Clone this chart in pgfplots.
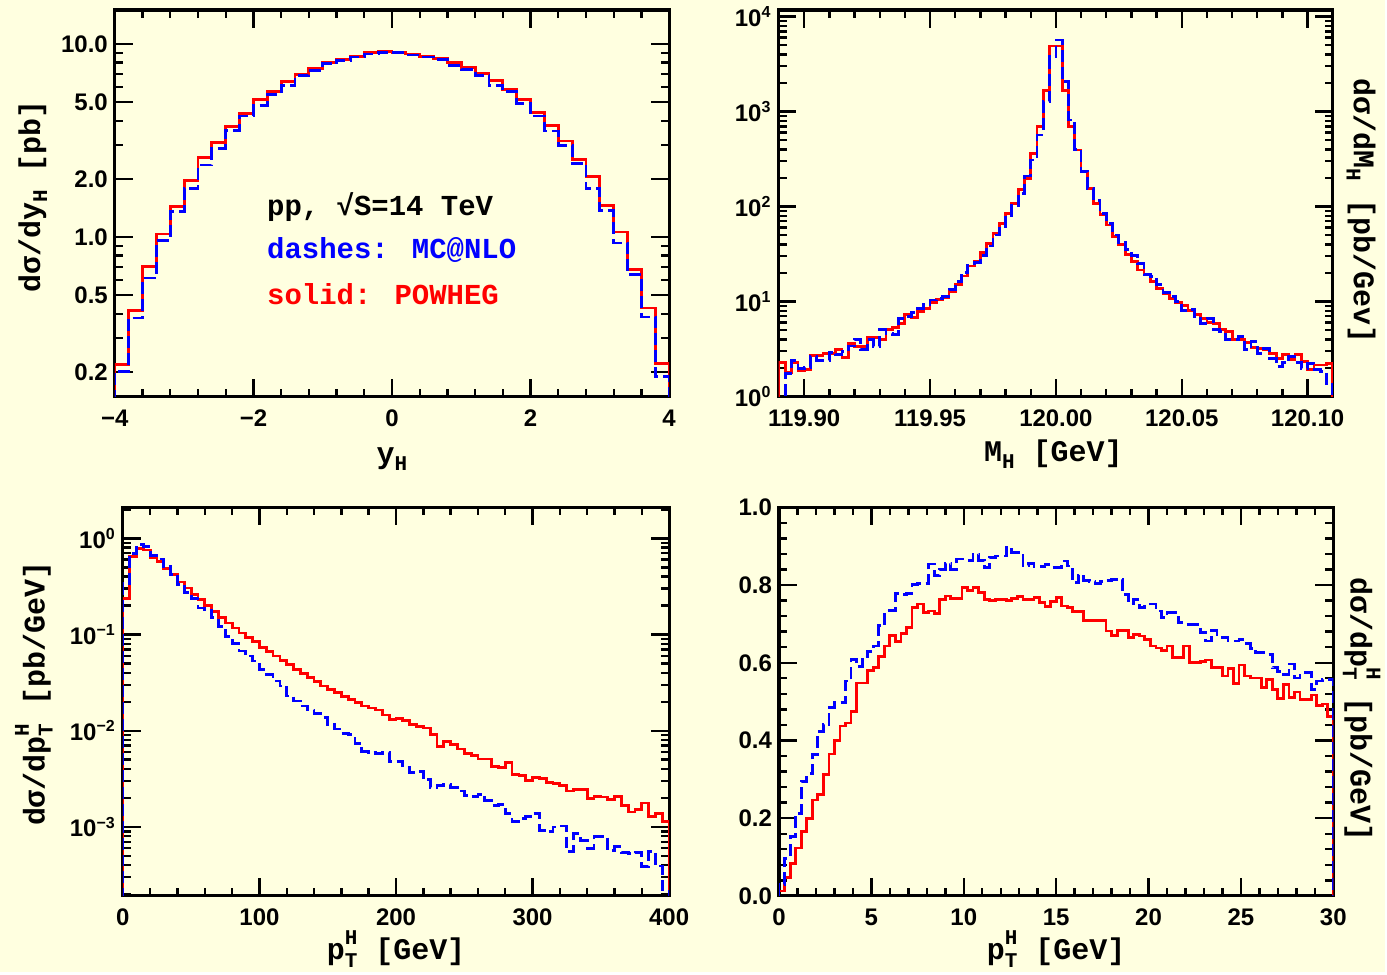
\documentclass[border=0pt]{standalone}
\usepackage{fontspec}
\setmainfont{Liberation Mono}
\newfontfamily\tickfont{Liberation Sans}
\usepackage{pgfplots}
\pgfplotsset{compat=1.18}
\definecolor{bg}{RGB}{255,255,224}
\definecolor{myred}{RGB}{255,0,0}
\definecolor{myblue}{RGB}{0,0,255}
\newcommand\lbl{\fontsize{15}{17}\selectfont\bfseries}
\newcommand\tck{\fontsize{12}{14}\tickfont\bfseries}
\newcommand\sub[1]{\raisebox{-0.45ex}{\fontsize{10.5}{10.5}\selectfont#1}}
\newcommand\pth{p\rlap{\raisebox{-0.5ex}{\fontsize{10.5}{10.5}\selectfont T}}\raisebox{1.0ex}{\fontsize{10.5}{10.5}\selectfont H}}
\pgfplotsset{
  every axis/.append style={
    scale only axis,
    anchor=south west,
    axis line style={line width=1.6pt},
    tick style={black,line width=1.2pt},
    major tick length=9pt,
    minor tick length=4pt,
    tick align=inside,
    xtick pos=both, ytick pos=both,
    tick label style={font=\tck},
    xticklabel style={yshift=-3pt},
    label style={font=\lbl},
    axis background/.style={fill=bg},
  },
  redh/.style={const plot, myred, line width=1.4pt, mark=none},
  blueh/.style={const plot, myblue, line width=1.4pt, mark=none, dash pattern=on 6pt off 2.5pt},
}
\begin{document}
\begin{tikzpicture}
\fill[bg] (0,0) rectangle (693.5pt,486.5pt);
% ---------------- top left
\begin{axis}[at={(57.5pt,288pt)}, width=277.5pt, height=193.5pt,
  xmin=-4, xmax=4, ymode=log, ymin=0.149, ymax=15,
  xtick={-4,-2,0,2,4}, xticklabels={−4,−2,0,2,4}, minor x tick num=4,
  ytick={0.2,0.5,1,2,5,10}, yticklabels={0.2,0.5,1.0,2.0,5.0,10.0},
  minor ytick={0.3,0.4,0.6,0.7,0.8,0.9,3,4,6,7,8,9},
  xlabel={y\sub{H}}, ylabel={dσ/dy\sub{H} [pb]},
  xlabel style={at={(axis description cs:0.5,-0.163)},anchor=center},
  ylabel style={at={(axis description cs:-0.148,0.517)},anchor=center},
]
\addplot[redh] coordinates {(-4,0.01) (-4,0.218) (-3.8,0.417) (-3.6,0.706) (-3.4,1.036) (-3.2,1.44) (-3,1.97) (-2.8,2.58) (-2.6,3.10) (-2.4,3.74) (-2.2,4.36) (-2,5.16) (-1.8,5.67) (-1.6,6.37) (-1.4,6.92) (-1.2,7.46) (-1,8.04) (-0.8,8.30) (-0.6,8.63) (-0.4,8.99) (-0.2,9.10) (0,9.06) (0.2,8.87) (0.4,8.63) (0.6,8.40) (0.8,8.04) (1,7.55) (1.2,7.03) (1.4,6.44) (1.6,5.79) (1.8,5.16) (2,4.40) (2.2,3.79) (2.4,3.14) (2.6,2.52) (2.8,2.06) (3,1.45) (3.2,1.06) (3.4,0.678) (3.6,0.428) (3.8,0.221) (4,0.221) (4,0.01)};
\addplot[blueh] coordinates {(-4,0.01) (-4,0.200) (-3.8,0.380) (-3.6,0.612) (-3.4,0.957) (-3.2,1.35) (-3,1.79) (-2.8,2.36) (-2.6,2.88) (-2.4,3.57) (-2.2,4.23) (-2,4.80) (-1.8,5.48) (-1.6,6.12) (-1.4,6.86) (-1.2,7.31) (-1,7.91) (-0.8,8.23) (-0.6,8.56) (-0.4,8.87) (-0.2,9.06) (0,8.99) (0.2,8.77) (0.4,8.56) (0.6,8.30) (0.8,7.76) (1,7.37) (1.2,6.86) (1.4,6.12) (1.6,5.65) (1.8,4.92) (2,4.23) (2.2,3.54) (2.4,2.99) (2.6,2.41) (2.8,1.78) (3,1.37) (3.2,0.931) (3.4,0.639) (3.6,0.385) (3.8,0.189) (4,0.189) (4,0.01)};
\node[anchor=west,font=\fontsize{14.5}{16}\selectfont\bfseries] at (rel axis cs:0.262,0.491) {pp, √S=14 TeV};
\node[anchor=west,font=\fontsize{14.5}{16}\selectfont\bfseries,text=myblue] at (rel axis cs:0.262,0.380) {dashes: MC@NLO};
\node[anchor=west,font=\fontsize{14.5}{16}\selectfont\bfseries,text=myred] at (rel axis cs:0.262,0.264) {solid: POWHEG};
\end{axis}
% ---------------- top right
\begin{axis}[at={(389.75pt,288pt)}, width=277.5pt, height=193.5pt,
  xmin=-110.2, xmax=110, ymode=log, ymin=1, ymax=11750,
  xtick={-100,-50,0,50,100}, xticklabels={119.90,119.95,120.00,120.05,120.10}, minor x tick num=4,
  ytick={1,10,100,1000,10000},
  yticklabels={10\textsuperscript{0},10\textsuperscript{1},10\textsuperscript{2},10\textsuperscript{3},10\textsuperscript{4}},
  minor ytick={2,3,4,5,6,7,8,9,20,30,40,50,60,70,80,90,200,300,400,500,600,700,800,900,2000,3000,4000,5000,6000,7000,8000,9000},
  xlabel={M\sub{H} [GeV]}, ylabel={dσ/dM\sub{H} [pb/Gev]},
  xlabel style={at={(axis description cs:0.496,-0.15)},anchor=center},
  ylabel style={at={(axis description cs:1.051,0.48)},anchor=center,rotate=180},
]
\addplot[redh] coordinates {(-110,0.1) (-110,2.28) (-107.5,1.79) (-105,2.28) (-102.5,1.88) (-100,1.91) (-97.5,2.68) (-95,2.68) (-92.5,2.81) (-90,2.81) (-87.5,3.10) (-85,2.59) (-82.5,3.58) (-80,3.36) (-77.5,3.36) (-75,4.21) (-72.5,4.21) (-70,3.95) (-67.5,5.03) (-65,5.37) (-62.5,5.91) (-60,7.24) (-57.5,6.84) (-55,7.85) (-52.5,8.51) (-50,9.76) (-47.5,10.6) (-45,11.0) (-42.5,12.7) (-40,15.0) (-37.5,18.6) (-35,23.7) (-32.5,26.4) (-30,32.8) (-27.5,40.5) (-25,52.4) (-22.5,65.7) (-20,85.1) (-17.5,108) (-15,152) (-12.5,199) (-10,364) (-7.5,695) (-5,1663) (-2.5,4910) (0,4910) (2.5,1663) (5,695) (7.5,395) (10,234) (12.5,156) (15,108) (17.5,81.7) (20,64.1) (22.5,48.3) (25,39.5) (27.5,31.0) (30,26.4) (32.5,21.5) (35,19.1) (37.5,16.2) (40,13.8) (42.5,12.0) (45,10.8) (47.5,9.76) (50,9.0) (52.5,8.04) (55,7.24) (57.5,6.68) (60,6.01) (62.5,5.91) (65,5.11) (67.5,4.83) (70,4.01) (72.5,3.95) (75,3.70) (77.5,3.31) (80,3.23) (82.5,3.10) (85,2.86) (87.5,2.53) (90,2.75) (92.5,2.43) (95,2.75) (97.5,2.33) (100,1.91) (102.5,2.15) (105,2.15) (107.5,2.24) (110,2.24) (110,0.1)};
\addplot[blueh] coordinates {(-110,0.1) (-110,0.5) (-107.5,1.76) (-105,2.39) (-102.5,1.99) (-100,2.03) (-97.5,2.64) (-95,2.39) (-92.5,2.39) (-90,2.90) (-87.5,2.75) (-85,2.98) (-82.5,3.41) (-80,4.01) (-77.5,3.15) (-75,3.95) (-72.5,3.36) (-70,5.03) (-67.5,4.57) (-65,4.48) (-62.5,6.68) (-60,6.96) (-57.5,7.66) (-55,8.51) (-52.5,9.22) (-50,10.4) (-47.5,10.8) (-45,11.3) (-42.5,13.5) (-40,16.2) (-37.5,20.2) (-35,24.3) (-32.5,25.7) (-30,30.3) (-27.5,38.5) (-25,50.3) (-22.5,61.5) (-20,79.8) (-17.5,102) (-15,138) (-12.5,210) (-10,310) (-7.5,568) (-5,1274) (-2.5,3793) (0,5680) (2.5,2070) (5,817) (7.5,401) (10,234) (12.5,156) (15,116) (17.5,85.1) (20,66.8) (22.5,50.3) (25,41.8) (27.5,35.6) (30,30.3) (32.5,25.3) (35,19.1) (37.5,18.3) (40,15.0) (42.5,12.4) (45,11.3) (47.5,10.0) (50,8.04) (52.5,8.2) (55,6.96) (57.5,5.91) (60,6.68) (62.5,5.03) (65,4.83) (67.5,3.95) (70,3.95) (72.5,4.28) (75,3.10) (77.5,3.79) (80,2.86) (82.5,3.23) (85,2.53) (87.5,2.07) (90,2.28) (92.5,2.64) (95,2.28) (97.5,1.99) (100,2.24) (102.5,1.91) (105,1.83) (107.5,1.38) (110,1.38) (110,0.1)};
\end{axis}
% ---------------- bottom left
\begin{axis}[at={(61.5pt,38pt)}, width=273.5pt, height=194.5pt,
  xmin=0, xmax=400, ymode=log, ymin=1.92e-4, ymax=2.1,
  xtick={0,100,200,300,400}, minor x tick num=4,
  xticklabels={0,100,200,300,400},
  ytick={0.001,0.01,0.1,1},
  yticklabels={10\textsuperscript{−3},10\textsuperscript{−2},10\textsuperscript{−1},10\textsuperscript{0}},
  minor ytick={2e-4,3e-4,4e-4,5e-4,6e-4,7e-4,8e-4,9e-4,0.002,0.003,0.004,0.005,0.006,0.007,0.008,0.009,0.02,0.03,0.04,0.05,0.06,0.07,0.08,0.09,0.2,0.3,0.4,0.5,0.6,0.7,0.8,0.9,2},
  xlabel={\pth\ [GeV]}, ylabel={dσ/d\pth\ [pb/GeV]},
  xlabel style={at={(axis description cs:0.5,-0.137)},anchor=center},
  ylabel style={at={(axis description cs:-0.163,0.52)},anchor=center},
]
\addplot[redh] coordinates {(0,1e-5) (0,0.239) (5,0.646) (10,0.788) (15,0.757) (20,0.631) (25,0.574) (30,0.490) (35,0.418) (40,0.351) (45,0.304) (50,0.259) (55,0.230) (60,0.200) (65,0.172) (70,0.151) (75,0.132) (80,0.117) (85,0.104) (90,0.0924) (95,0.0840) (100,0.0740) (105,0.0662) (110,0.0597) (115,0.0538) (120,0.0490) (125,0.0434) (130,0.0392) (135,0.0356) (140,0.0324) (145,0.0292) (150,0.0270) (155,0.0249) (160,0.0225) (165,0.0213) (170,0.0196) (175,0.0181) (180,0.0172) (185,0.0164) (190,0.0146) (195,0.0132) (200,0.0135) (205,0.0127) (210,0.0117) (215,0.0110) (220,0.0107) (225,0.00909) (230,0.00683) (235,0.00776) (240,0.00716) (245,0.00646) (250,0.00583) (255,0.00551) (260,0.00509) (265,0.00509) (270,0.00424) (275,0.00417) (280,0.00470) (285,0.00351) (290,0.00342) (295,0.00304) (300,0.00324) (305,0.00316) (310,0.00292) (315,0.00285) (320,0.00270) (325,0.00236) (330,0.00243) (335,0.00243) (340,0.00196) (345,0.00208) (350,0.00205) (355,0.00192) (360,0.00208) (365,0.00168) (370,0.00143) (375,0.00151) (380,0.00177) (385,0.00129) (390,0.00137) (395,0.00113) (400,0.00113) (400,1e-5)};
\addplot[blueh] coordinates {(0,1e-5) (0,0.342) (5,0.700) (10,0.867) (15,0.820) (20,0.660) (25,0.611) (30,0.509) (35,0.418) (40,0.329) (45,0.276) (50,0.236) (55,0.189) (60,0.177) (65,0.149) (70,0.122) (75,0.0962) (80,0.0800) (85,0.0673) (90,0.0597) (95,0.0530) (100,0.0434) (105,0.0385) (110,0.0329) (115,0.0292) (120,0.0230) (125,0.0204) (130,0.0181) (135,0.0164) (140,0.0151) (145,0.0137) (150,0.0115) (155,0.0104) (160,0.00938) (165,0.00909) (170,0.00740) (175,0.00611) (180,0.00597) (185,0.00583) (190,0.00597) (195,0.00482) (200,0.00482) (205,0.00418) (210,0.00371) (215,0.00380) (220,0.00309) (225,0.00255) (230,0.00270) (235,0.00276) (240,0.00255) (245,0.00236) (250,0.00213) (255,0.00208) (260,0.00218) (265,0.00189) (270,0.00168) (275,0.00172) (280,0.00137) (285,0.00113) (290,0.00122) (295,0.00129) (300,0.00139) (305,0.000924) (310,0.000888) (315,0.00100) (320,0.00102) (325,0.000551) (330,0.000853) (335,0.000716) (340,0.000597) (345,0.000788) (350,0.000788) (355,0.000574) (360,0.000620) (365,0.000545) (370,0.000528) (375,0.000545) (380,0.000386) (385,0.000551) (390,0.000392) (395,0.000221) (400,0.000221) (400,1e-5)};
\end{axis}
% ---------------- bottom right
\begin{axis}[at={(390pt,38pt)}, width=277.5pt, height=194.5pt,
  xmin=0, xmax=30, ymin=0, ymax=1,
  xtick={0,5,10,15,20,25,30}, xticklabels={0,5,10,15,20,25,30}, minor x tick num=4,
  ytick={0,0.2,0.4,0.6,0.8,1}, yticklabels={0.0,0.2,0.4,0.6,0.8,1.0}, minor y tick num=4,
  xlabel={\pth\ [GeV]}, ylabel={dσ/d\pth\ [pb/GeV]},
  xlabel style={at={(axis description cs:0.5,-0.137)},anchor=center},
  ylabel style={at={(axis description cs:1.051,0.48)},anchor=center,rotate=180},
]
\addplot[redh] coordinates {(0,0) (0,0.0125) (0.3,0.0469) (0.6,0.0839) (0.9,0.123) (1.2,0.166) (1.5,0.200) (1.8,0.247) (2.1,0.260) (2.4,0.312) (2.7,0.365) (3.0,0.400) (3.3,0.437) (3.6,0.445) (3.9,0.475) (4.2,0.548) (4.5,0.548) (4.8,0.580) (5.1,0.587) (5.4,0.617) (5.7,0.643) (6.0,0.671) (6.3,0.654) (6.6,0.675) (6.9,0.690) (7.2,0.742) (7.5,0.751) (7.8,0.729) (8.1,0.733) (8.4,0.726) (8.7,0.763) (9.0,0.772) (9.3,0.766) (9.6,0.766) (9.9,0.794) (10.2,0.787) (10.5,0.794) (10.8,0.781) (11.1,0.763) (11.4,0.761) (11.7,0.763) (12.0,0.763) (12.3,0.761) (12.6,0.766) (12.9,0.771) (13.2,0.763) (13.5,0.763) (13.8,0.768) (14.1,0.755) (14.4,0.745) (14.7,0.757) (15.0,0.769) (15.3,0.746) (15.6,0.742) (15.9,0.732) (16.2,0.732) (16.5,0.709) (16.8,0.708) (17.1,0.708) (17.4,0.708) (17.7,0.682) (18.0,0.671) (18.3,0.683) (18.6,0.683) (18.9,0.666) (19.2,0.673) (19.5,0.669) (19.8,0.660) (20.1,0.643) (20.4,0.638) (20.7,0.632) (21.0,0.643) (21.3,0.613) (21.6,0.613) (21.9,0.643) (22.2,0.600) (22.5,0.600) (22.8,0.603) (23.1,0.607) (23.4,0.587) (23.7,0.587) (24.0,0.566) (24.3,0.585) (24.6,0.546) (24.9,0.594) (25.2,0.566) (25.5,0.561) (25.8,0.561) (26.1,0.537) (26.4,0.557) (26.7,0.531) (27.0,0.508) (27.3,0.544) (27.6,0.511) (27.9,0.525) (28.2,0.505) (28.5,0.505) (28.8,0.517) (29.1,0.491) (29.4,0.494) (29.7,0.462) (30,0.462) (30,0)};
\addplot[blueh] coordinates {(0,0) (0,0.030) (0.3,0.097) (0.6,0.153) (0.9,0.213) (1.2,0.295) (1.5,0.314) (1.8,0.363) (2.1,0.424) (2.4,0.441) (2.7,0.484) (3.0,0.497) (3.3,0.497) (3.6,0.553) (3.9,0.609) (4.2,0.591) (4.5,0.615) (4.8,0.630) (5.1,0.643) (5.4,0.695) (5.7,0.733) (6.0,0.735) (6.3,0.778) (6.6,0.775) (6.9,0.778) (7.2,0.802) (7.5,0.804) (7.8,0.804) (8.1,0.854) (8.4,0.824) (8.7,0.841) (9.0,0.855) (9.3,0.841) (9.6,0.867) (9.9,0.867) (10.2,0.864) (10.5,0.880) (10.8,0.864) (11.1,0.845) (11.4,0.871) (11.7,0.875) (12.0,0.875) (12.3,0.897) (12.6,0.884) (12.9,0.884) (13.2,0.850) (13.5,0.855) (13.8,0.847) (14.1,0.847) (14.4,0.852) (14.7,0.845) (15.0,0.845) (15.3,0.862) (15.6,0.849) (15.9,0.806) (16.2,0.826) (16.5,0.811) (16.8,0.809) (17.1,0.804) (17.4,0.809) (17.7,0.812) (18.0,0.815) (18.3,0.815) (18.6,0.776) (18.9,0.751) (19.2,0.763) (19.5,0.742) (19.8,0.746) (20.1,0.751) (20.4,0.733) (20.7,0.716) (21.0,0.729) (21.3,0.729) (21.6,0.703) (21.9,0.699) (22.2,0.699) (22.5,0.699) (22.8,0.677) (23.1,0.656) (23.4,0.683) (23.7,0.666) (24.0,0.666) (24.3,0.656) (24.6,0.656) (24.9,0.660) (25.2,0.649) (25.5,0.637) (25.8,0.626) (26.1,0.626) (26.4,0.622) (26.7,0.587) (27.0,0.578) (27.3,0.570) (27.6,0.597) (27.9,0.561) (28.2,0.574) (28.5,0.574) (28.8,0.531) (29.1,0.553) (29.4,0.557) (29.7,0.557) (30,0.557) (30,0)};
\end{axis}
\end{tikzpicture}
\end{document}
